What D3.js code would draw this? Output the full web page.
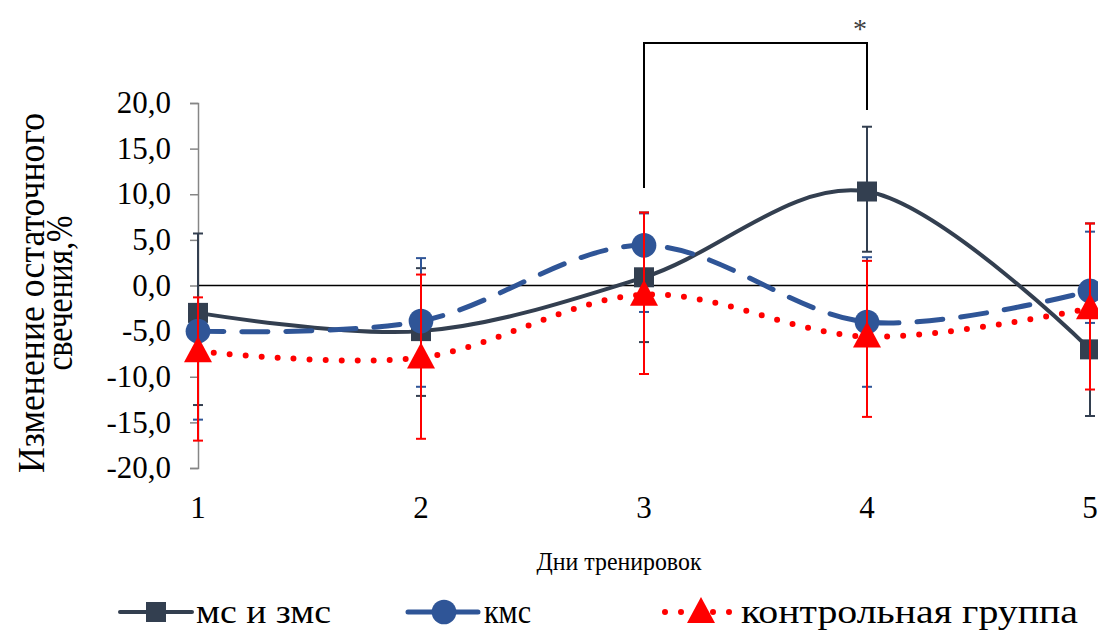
<!DOCTYPE html>
<html>
<head>
<meta charset="utf-8">
<script src="https://cdn.jsdelivr.net/npm/d3@7"></script>
<style>
  body { margin: 0; background: #fff; }
</style>
</head>
<body>
<svg width="1098" height="635"></svg>
<script>
const d3 = window.d3

// training days
const days = ['1', '2', '3', '4', '5']
const yTicks = [-20, -15, -10, -5, 0, 5, 10, 15, 20]

// мс и змс
const msMean = [-3.0, -5.0, 0.9, 10.3, -7.0]
const msUp = [5.7, 1.9, 8.0, 17.4, 6.8]
const msLow = [-13.1, -12.1, -6.2, 3.7, -14.3]

// кмс
const kmsMean = [-5.0, -3.9, 4.4, -4.0, -0.6]
const kmsUp = [-5.0, 3.0, 7.9, 3.1, 5.9]
const kmsLow = [-14.7, -11.1, -2.9, -11.1, -4.1]

// контрольная группа
const ctrlMean = [-7.2, -7.9, -1.0, -5.6, -2.5]
const ctrlUp = [-1.3, 1.2, 8.0, 2.7, 6.8]
const ctrlLow = [-17.0, -16.8, -9.7, -14.4, -11.4]

const seriesNames = ['мс и змс', 'кмс', 'контрольная группа']

const svg = d3.select('svg')

// generic serif family for every label
const label = (sel, size) => sel
  .style('font-family', 'serif')
  .style('font-size', size + 'px')

const x = d3.scalePoint().domain(days).range([198, 1090])
const y = d3.scaleLinear().domain([-20, 20]).range([468, 103])

const series = [
  { name: seriesNames[0], mean: msMean, up: msUp, low: msLow, color: '#333f50', marker: 'square', width: 4, dash: null, textLen: 135 },
  { name: seriesNames[1], mean: kmsMean, up: kmsUp, low: kmsLow, color: '#2f5597', marker: 'circle', width: 5, dash: '26 18', textLen: 47 },
  { name: seriesNames[2], mean: ctrlMean, up: ctrlUp, low: ctrlLow, color: '#ff0000', marker: 'triangle', width: 6, dash: '0 16', textLen: 337 },
]

// y axis: d3 draws line and ticks, labels placed from the same scale
const fmt = (d) => d3.format('.1f')(d).replace('.', ',').replace('−', '-')
const yAxis = d3.axisLeft(y).tickValues(yTicks).tickSize(8).tickFormat('')
const gy = svg.append('g').attr('transform', 'translate(198,0)').call(yAxis)
gy.select('.domain').attr('stroke', '#868686').attr('stroke-width', 1.5)
gy.selectAll('.tick line').attr('stroke', '#868686').attr('stroke-width', 1.5)
gy.selectAll('.tick text').remove()
label(svg.append('g').selectAll('text').data(yTicks).join('text')
  .attr('x', 171).attr('y', (d) => y(d)).attr('dy', '0.33em')
  .attr('text-anchor', 'end'), 31)
  .text(fmt)

// zero line
svg.append('line')
  .attr('x1', x('1')).attr('x2', x('5'))
  .attr('y1', y(0)).attr('y2', y(0))
  .attr('stroke', '#000').attr('stroke-width', 1.5)

// x labels
label(svg.append('g').selectAll('text').data(days).join('text')
  .attr('x', (d) => x(d)).attr('y', 518)
  .attr('text-anchor', 'middle'), 31)
  .text((d) => d)

label(svg.append('text').attr('x', 619).attr('y', 570)
  .attr('text-anchor', 'middle'), 25)
  .attr('textLength', 165).attr('lengthAdjust', 'spacingAndGlyphs')
  .text('Дни тренировок')

// y title
label(svg.append('text').attr('x', -293).attr('y', 44)
  .attr('transform', 'rotate(-90)')
  .attr('text-anchor', 'middle'), 38)
  .attr('textLength', 360).attr('lengthAdjust', 'spacingAndGlyphs')
  .text('Изменение остаточного')
label(svg.append('text').attr('x', -293).attr('y', 72)
  .attr('transform', 'rotate(-90)')
  .attr('text-anchor', 'middle'), 38)
  .attr('textLength', 155).attr('lengthAdjust', 'spacingAndGlyphs')
  .text('свечения,%')

const line = d3.line()
  .x((d, i) => x(days[i]))
  .y((d) => y(d))
  .curve(d3.curveCardinal.tension(0))

const markerPath = (type) => {
  if (type === 'square') return d3.symbol(d3.symbolSquare, 400)()
  if (type === 'circle') return d3.symbol(d3.symbolCircle, 480)()
  return 'M0,-15L14,11L-14,11Z'
}

series.forEach((s) => {
  const g = svg.append('g')
  // error bars
  const eb = g.append('g').selectAll('g').data(days).join('g')
    .attr('transform', (d) => `translate(${x(d)},0)`)
  eb.append('line')
    .attr('y1', (d, i) => y(s.up[i])).attr('y2', (d, i) => y(s.low[i]))
    .attr('stroke', s.color).attr('stroke-width', 2)
  eb.filter((d, i) => s.up[i] !== s.mean[i]).append('line')
    .attr('x1', -5).attr('x2', 5)
    .attr('y1', (d) => y(s.up[days.indexOf(d)])).attr('y2', (d) => y(s.up[days.indexOf(d)]))
    .attr('stroke', s.color).attr('stroke-width', 2)
  eb.append('line')
    .attr('x1', -5).attr('x2', 5)
    .attr('y1', (d, i) => y(s.low[i])).attr('y2', (d, i) => y(s.low[i]))
    .attr('stroke', s.color).attr('stroke-width', 2)

  g.append('path').attr('d', line(s.mean))
    .attr('fill', 'none').attr('stroke', s.color).attr('stroke-width', s.width)
    .attr('stroke-dasharray', s.dash).attr('stroke-linecap', 'round')

  g.append('g').selectAll('path').data(s.mean).join('path')
    .attr('transform', (d, i) => `translate(${x(days[i])},${y(d)})`)
    .attr('d', markerPath(s.marker))
    .attr('fill', s.color)
})

// significance bracket
svg.append('path')
  .attr('d', `M${x('3')},188V43H${x('4')}V110`)
  .attr('fill', 'none').attr('stroke', '#000').attr('stroke-width', 2)
label(svg.append('text').attr('x', 860).attr('y', 38).attr('text-anchor', 'middle'), 28)
  .attr('fill', '#404040').text('*')

// legend
const legendX = [120, 408, 665]
const legend = svg.append('g').selectAll('g').data(series).join('g')
  .attr('transform', (d, i) => `translate(${legendX[i]},612)`)
legend.append('line').attr('x1', 0).attr('x2', 72)
  .attr('stroke', (d) => d.color).attr('stroke-width', (d) => d.width)
  .attr('stroke-dasharray', (d) => d.dash).attr('stroke-linecap', 'round')
legend.append('path').attr('transform', 'translate(36,0)')
  .attr('d', (d) => markerPath(d.marker)).attr('fill', (d) => d.color)
label(svg.append('g').selectAll('text').data(series).join('text')
  .attr('x', (d, i) => legendX[i] + 76).attr('y', 623), 34)
  .attr('textLength', (d) => d.textLen).attr('lengthAdjust', 'spacingAndGlyphs')
  .text((d) => d.name)
</script>
</body>
</html>
